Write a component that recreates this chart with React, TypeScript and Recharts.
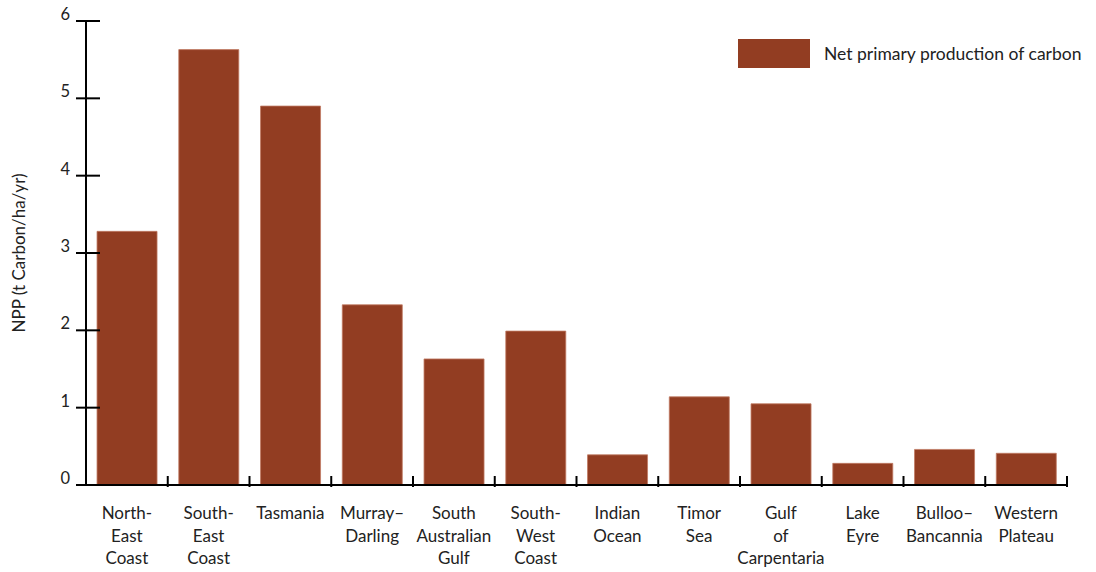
import React from 'react';
import { BarChart, Bar, XAxis, YAxis } from 'recharts';

const regions = [
    'North-|East|Coast', 'South-|East|Coast', 'Tasmania', 'Murray–|Darling',
    'South|Australian|Gulf', 'South-|West|Coast', 'Indian|Ocean', 'Timor|Sea',
    'Gulf|of|Carpentaria', 'Lake|Eyre', 'Bulloo–|Bancannia', 'Western|Plateau',
];
const npp = [3.28, 5.63, 4.9, 2.33, 1.63, 1.99, 0.39, 1.14, 1.05, 0.28, 0.46, 0.41];
const yTicks = [0, 1, 2, 3, 4, 5, 6];
const seriesName = 'Net primary production of carbon';

const data = regions.map((r, i) => ({ region: r, npp: npp[i] }));

const FONT = 'Lato, "Open Sans", sans-serif';
const BAR = '#923d22';
const BAND = 981 / regions.length;

const XTick = (props: any) => {
    const { x, y, payload } = props;
    const lines = String(payload.value).split('|');
    const edge = x + BAND / 2;
    return (
        <g>
            <line x1={edge} y1={y - 11} x2={edge} y2={y} stroke="#000" strokeWidth={2} />
            <text x={x} y={y + 32} textAnchor="middle" fontFamily={FONT} fontSize={17} fill="#222">
                {lines.map((l, i) => (
                    <tspan key={i} x={x} dy={i === 0 ? 0 : 22.5}>{l}</tspan>
                ))}
            </text>
        </g>
    );
};

const YTick = (props: any) => {
    const { y, payload } = props;
    return (
        <g>
            <line x1={76} y1={y} x2={100} y2={y} stroke="#000" strokeWidth={2} />
            <text x={70} y={y - 1} textAnchor="end" fontFamily={FONT} fontSize={16.5} fill="#222">
                {payload.value}
            </text>
        </g>
    );
};

export default function App() {
    return (
        <div style={{ position: 'absolute', left: 0, top: 0, width: 1096, height: 572, background: '#fff' }}>
            <BarChart
                width={1096}
                height={572}
                data={data}
                margin={{ top: 21, right: 29, left: 0, bottom: 0 }}
                barCategoryGap="13.5%"
            >
                <XAxis
                    dataKey="region"
                    height={87}
                    interval={0}
                    tickSize={0}
                    axisLine={{ stroke: '#000', strokeWidth: 2 }}
                    tickLine={false}
                    tick={<XTick />}
                />
                <YAxis
                    width={86}
                    domain={[0, 6]}
                    ticks={yTicks}
                    axisLine={{ stroke: '#000', strokeWidth: 2 }}
                    tickLine={false}
                    tick={<YTick />}
                    label={{
                        value: 'NPP (t Carbon/ha/yr)',
                        angle: -90,
                        position: 'insideLeft',
                        style: { fontFamily: FONT, fontSize: 17, fill: '#222', textAnchor: 'middle' },
                        dx: 14,
                    }}
                />
                <Bar dataKey="npp" name={seriesName} fill={BAR} stroke="#c07a62" strokeWidth={0.8} isAnimationActive={false} />
            </BarChart>
            <div
                style={{
                    position: 'absolute', left: 738, top: 39, display: 'flex', alignItems: 'center',
                    fontFamily: FONT, fontSize: 17.5, color: '#222',
                }}
            >
                <div style={{ width: 72, height: 29, background: BAR, marginRight: 14 }} />
                <span>{seriesName}</span>
            </div>
        </div>
    );
}
